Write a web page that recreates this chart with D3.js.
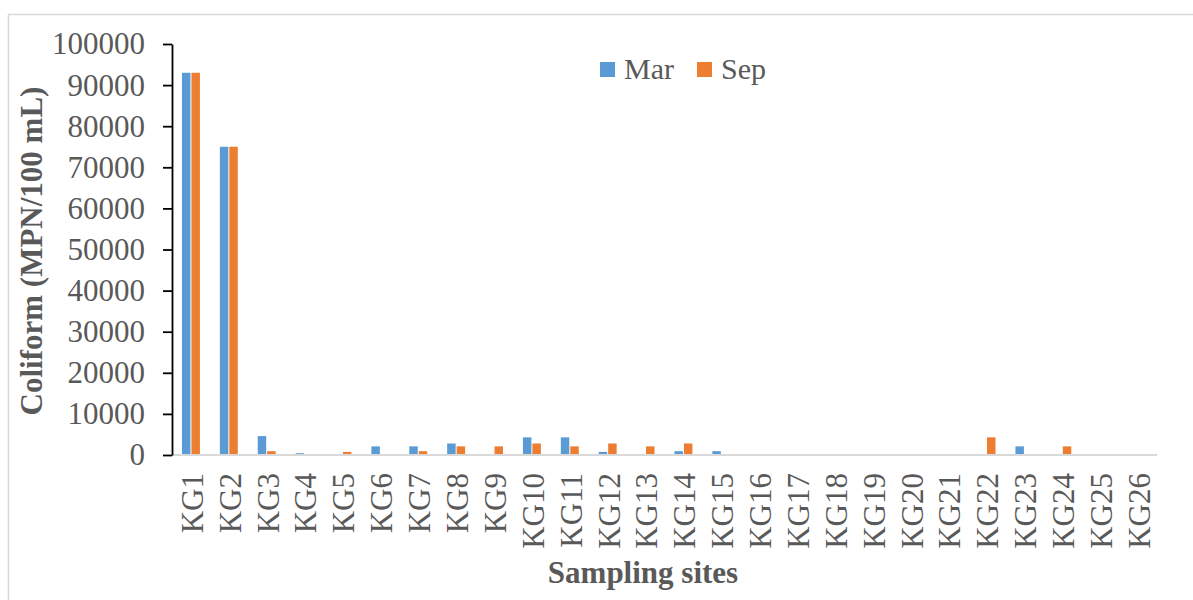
<!DOCTYPE html>
<html>
<head>
<meta charset="utf-8">
<script src="https://cdn.jsdelivr.net/npm/d3@7"></script>
<style>
  html, body { margin: 0; padding: 0; background: #fff; }
  svg { display: block; }
  text { font-family: "Liberation Serif", "Times New Roman", serif; }
</style>
</head>
<body>
<svg id="chart" width="1193" height="600"></svg>
<script>
// Sampling sites along the x axis
const sites = ["KG1","KG2","KG3","KG4","KG5","KG6","KG7","KG8","KG9","KG10","KG11","KG12","KG13",
               "KG14","KG15","KG16","KG17","KG18","KG19","KG20","KG21","KG22","KG23","KG24","KG25","KG26"];
// Coliform counts (MPN/100 mL) per campaign
const marValues = [93000, 75000, 4600, 430, 0, 2100, 2100, 2800, 150, 4300, 4300, 750, 150,
                   930, 930, 0, 0, 150, 0, 0, 0, 0, 2100, 0, 0, 0];
const sepValues = [93000, 75000, 930, 0, 750, 150, 930, 2100, 2100, 2800, 2100, 2800, 2100,
                   2800, 150, 0, 0, 0, 0, 0, 0, 4300, 0, 2100, 0, 0];
const seriesNames = ["Mar", "Sep"];
const seriesColors = ["#5b9bd5", "#ed7d31"];
const yTicks = [0, 10000, 20000, 30000, 40000, 50000, 60000, 70000, 80000, 90000, 100000];

const svg = d3.select("#chart");
const textColor = "#595959";

// outer chart frame
svg.append("rect")
  .attr("x", 8.5).attr("y", 14.5)
  .attr("width", 1220).attr("height", 620)
  .attr("fill", "none").attr("stroke", "#d9d9d9").attr("stroke-width", 1.5);

const plot = { left: 172, right: 1157, top: 44, bottom: 455 };

const x = d3.scaleBand().domain(sites).range([plot.left, plot.right])
  .paddingInner(0.5).paddingOuter(0.25);
const xInner = d3.scaleBand().domain(seriesNames).range([0, x.bandwidth()]);
const y = d3.scaleLinear().domain([0, 100000]).range([plot.bottom, plot.top]);

// bars
const rows = sites.map((s, i) => ({ site: s, vals: [marValues[i], sepValues[i]] }));
const groups = svg.append("g").selectAll("g").data(rows).join("g")
  .attr("transform", d => `translate(${x(d.site)},0)`);
groups.selectAll("rect")
  .data(d => d.vals.map((v, k) => ({ v, k })))
  .join("rect")
  .attr("x", d => xInner(seriesNames[d.k]) + 0.5)
  .attr("width", xInner.bandwidth() - 1)
  .attr("y", d => y(d.v))
  .attr("height", d => plot.bottom - y(d.v))
  .attr("fill", d => seriesColors[d.k]);

// horizontal baseline
svg.append("line")
  .attr("x1", plot.left).attr("x2", plot.right)
  .attr("y1", plot.bottom).attr("y2", plot.bottom)
  .attr("stroke", "#d9d9d9").attr("stroke-width", 2);

// y axis
const yAxis = d3.axisLeft(y).tickValues(yTicks).tickFormat(d3.format("d"))
  .tickSizeInner(9).tickSizeOuter(0).tickPadding(18);
const yg = svg.append("g").attr("transform", `translate(${plot.left},0)`).call(yAxis);
yg.select(".domain").attr("stroke", "#000").attr("stroke-width", 1.8);
yg.selectAll(".tick line").attr("stroke", "#000").attr("stroke-width", 1.8);
yg.selectAll(".tick text")
  .attr("fill", textColor)
  .style("font-family", "'Liberation Serif', 'Times New Roman', serif")
  .style("font-size", "31px");

// x category labels, rotated
svg.append("g").selectAll("text").data(sites).join("text")
  .attr("transform", d => `translate(${x(d) + x.bandwidth() / 2 + 1},473) rotate(-90)`)
  .attr("text-anchor", "end")
  .attr("dy", "0.35em")
  .attr("fill", textColor)
  .style("font-size", "31px")
  .text(d => d);

// axis titles
svg.append("text")
  .attr("transform", "translate(31,251) rotate(-90)")
  .attr("text-anchor", "middle")
  .attr("dy", "0.35em")
  .attr("fill", textColor)
  .style("font-size", "31px").style("font-weight", "bold")
  .text("Coliform (MPN/100 mL)");

svg.append("text")
  .attr("x", 643).attr("y", 583)
  .attr("text-anchor", "middle")
  .attr("fill", textColor)
  .style("font-size", "31px").style("font-weight", "bold")
  .text("Sampling sites");

// legend
const legendX = [600, 697];
const legend = svg.append("g").selectAll("g").data(seriesNames).join("g")
  .attr("transform", (d, i) => `translate(${legendX[i]},62)`);
legend.append("rect")
  .attr("width", 15).attr("height", 15)
  .attr("fill", (d, i) => seriesColors[i]);
legend.append("text")
  .attr("x", 24).attr("y", 17)
  .attr("fill", textColor)
  .style("font-size", "30px")
  .text(d => d);
</script>
</body>
</html>
